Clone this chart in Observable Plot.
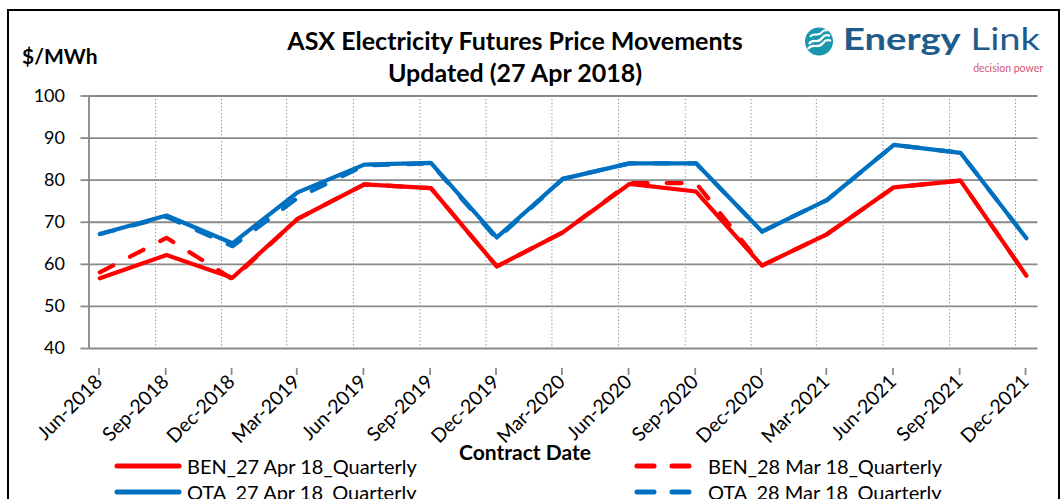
<!DOCTYPE html>
<html><head><meta charset="utf-8">
<script src="https://cdn.jsdelivr.net/npm/d3@7"></script>
<script src="https://cdn.jsdelivr.net/npm/@observablehq/plot@0.6"></script>
<style>
body{margin:0;background:#fff;font-family:Lato,"Open Sans",sans-serif;}
#wrap{position:relative;width:1060px;height:499px;overflow:hidden;background:#fff;}
#frame{position:absolute;left:7px;top:9px;width:1049px;height:520px;border:2px solid #000;pointer-events:none;}
#chart{position:absolute;left:0;top:0;}
.t{position:absolute;white-space:nowrap;color:#000;}
#title{left:165px;width:700px;top:24px;text-align:center;font-weight:bold;font-size:25px;line-height:32px;}
#ylab{left:22px;top:43px;font-weight:bold;font-size:21px;}
#xlab{left:425px;width:200px;top:439px;text-align:center;font-weight:bold;font-size:21px;}
.leg{position:absolute;font-size:20px;height:24px;line-height:24px;white-space:nowrap;}
.leg svg{position:absolute;left:0;top:0;}
.leg span{position:absolute;top:0;}
#logo{position:absolute;left:790px;top:0px;}
</style>
</head><body>
<div id="wrap">
  <div id="chart"></div>
  <div class="t" id="title">ASX Electricity Futures Price Movements<br>Updated (27 Apr 2018)</div>
  <div class="t" id="ylab">$/MWh</div>
  <div class="t" id="xlab">Contract Date</div>
  <div id="legend"></div>
  <svg id="logo" width="262" height="80" viewBox="0 0 262 80">
    <circle cx="29" cy="41.5" r="14" fill="#1b97ad"/>
    <path d="M19,44 C23,37 27,45 32,38 C35,34 38,35 40,36" stroke="#fff" stroke-width="2.2" fill="none"/>
    <path d="M18,49 C22,42 28,50 33,43 C36,39 39,40 41,41" stroke="#fff" stroke-width="2.2" fill="none"/>
    <path d="M20,37 C24,31 28,38 32,32 C34,30 36,30 37,31" stroke="#fff" stroke-width="2" fill="none"/>
    <text x="53" y="50" font-family="Lato, sans-serif" font-size="30" fill="#1f5c8c" textLength="197" lengthAdjust="spacingAndGlyphs"><tspan font-weight="bold">Energy</tspan> Link</text>
    <text x="253" y="72" text-anchor="end" font-family="Lato, sans-serif" font-size="10.5" fill="#d2556e">decision power</text>
  </svg>
  <div id="frame"></div>
</div>
<script>
// ---- data ----
const contractDates = ["2018-06-16","2018-09-16","2018-12-16","2019-03-16","2019-06-16","2019-09-16","2019-12-16","2020-03-16","2020-06-16","2020-09-16","2020-12-16","2021-03-16","2021-06-16","2021-09-16","2021-12-16"];
const tickDates = ["2018-06-01","2018-09-01","2018-12-01","2019-03-01","2019-06-01","2019-09-01","2019-12-01","2020-03-01","2020-06-01","2020-09-01","2020-12-01","2021-03-01","2021-06-01","2021-09-01","2021-12-01"];
const tickLabels = ["Jun-2018","Sep-2018","Dec-2018","Mar-2019","Jun-2019","Sep-2019","Dec-2019","Mar-2020","Jun-2020","Sep-2020","Dec-2020","Mar-2021","Jun-2021","Sep-2021","Dec-2021"];
const yTicks = [40,50,60,70,80,90,100];
const seriesNames = ["BEN_27 Apr 18_Quarterly","BEN_28 Mar 18_Quarterly","OTA_27 Apr 18_Quarterly","OTA_28 Mar 18_Quarterly"];
const ben27Apr = [56.7,62.2,56.8,70.8,79.0,78.1,59.5,67.6,79.1,77.3,59.7,67.2,78.3,79.9,57.3];
const ben28Mar = [58.1,66.3,56.5,70.8,79.0,78.1,59.5,67.6,79.3,79.3,59.7,67.2,78.3,79.9,57.3];
const ota27Apr = [67.2,71.6,65.0,77.1,83.7,84.1,66.4,80.3,84.0,84.0,67.8,75.3,88.4,86.5,66.2];
const ota28Mar = [67.2,71.3,64.3,75.8,83.5,84.0,66.0,80.3,84.0,84.0,67.8,75.3,88.4,86.5,66.2];
const seriesColors = ["#ff0000","#ff0000","#0070c0","#0070c0"];
const seriesDashed = [false,true,false,true];

// ---- build ----
const parse = d3.utcParse("%Y-%m-%d");
const ticks = tickDates.map(parse);
const allSeries = [ben27Apr, ben28Mar, ota27Apr, ota28Mar];
const rows = allSeries.map(vals => vals.map((v,i)=>({date: parse(contractDates[i]), value: v})));
const dash = "15,19";

const lineMarks = rows.map((data,k) => Plot.line(data, {
  x:"date", y:"value", stroke: seriesColors[k], strokeWidth:4.2,
  strokeLinecap:"round", strokeLinejoin:"round",
  strokeDasharray: seriesDashed[k] ? dash : null
}));

const chart = Plot.plot({
  width:1060, height:499,
  marginLeft:88.5, marginRight:22.5, marginTop:95.5, marginBottom:151,
  x:{type:"utc", domain:[parse("2018-06-01"), parse("2022-01-01")]},
  y:{domain:[40,100]},
  style:{fontFamily:"Lato, sans-serif", fontSize:"18px", color:"#000", background:"transparent", overflow:"visible"},
  marks:[
    Plot.gridX(ticks, {stroke:"#9a9a9a", strokeOpacity:1, strokeWidth:1, strokeDasharray:"1.5,2"}),
    Plot.gridY(yTicks, {stroke:"#8a8a8a", strokeOpacity:1, strokeWidth:1.8}),
    Plot.ruleX([parse("2018-06-01")], {stroke:"#8a8a8a", strokeWidth:1.8}),
    Plot.axisY(yTicks, {tickSize:8, tickPadding:16, stroke:"#8a8a8a", strokeWidth:1.8, label:null, fontSize:18, tickFormat:d=>String(d)}),
    Plot.axisX(ticks, {tickSize:7, tickPadding:3, stroke:"#8a8a8a", strokeWidth:1.8, label:null, fontSize:19.5,
      tickRotate:-45, dx:10, dy:20,
      tickFormat: d => tickLabels[ticks.findIndex(t => +t === +d)]}),
    ...lineMarks
  ]
});
document.getElementById("chart").appendChild(chart);

// ---- legend ----
const legPos = [[113,454],[633,454],[113,480],[633,480]];
const textOff = [74,75,74,75];
const leg = document.getElementById("legend");
seriesNames.forEach((name,k) => {
  const d = document.createElement("div");
  d.className = "leg";
  d.style.left = legPos[k][0]+"px"; d.style.top = legPos[k][1]+"px";
  const sw = seriesDashed[k]
    ? `<svg width="60" height="24"><line x1="4" y1="12" x2="56" y2="12" stroke="${seriesColors[k]}" stroke-width="5" stroke-linecap="round" stroke-dasharray="17,18"/></svg>`
    : `<svg width="72" height="24"><line x1="4" y1="12" x2="66" y2="12" stroke="${seriesColors[k]}" stroke-width="5" stroke-linecap="round"/></svg>`;
  d.innerHTML = sw + `<span style="left:${textOff[k]}px">${name}</span>`;
  leg.appendChild(d);
});
</script>
</body></html>
